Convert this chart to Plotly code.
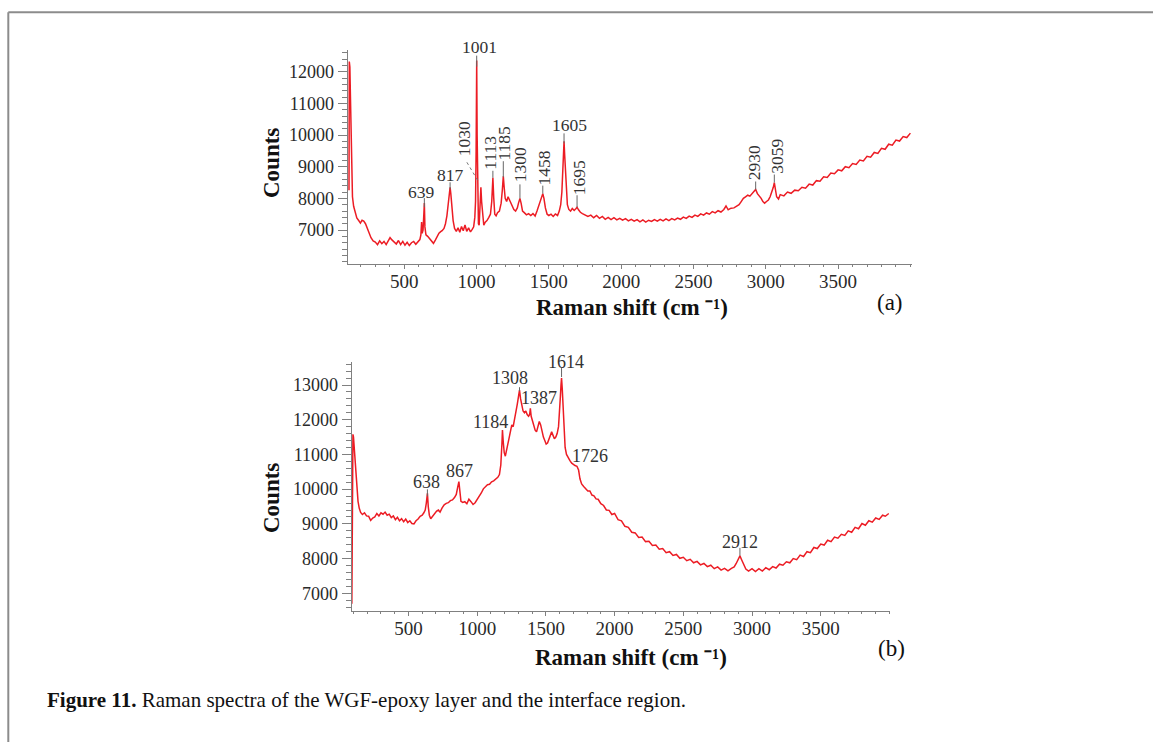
import plotly.graph_objects as go

# ---------------- spectrum (a): WGF-epoxy layer ----------------
shift_a = [
    118, 120, 124, 128, 132, 136, 142, 150, 160, 172,
    185, 197, 208, 220, 232, 245, 258, 270, 285, 300,
    315, 330, 345, 360, 375, 390, 402, 415, 430, 445,
    460, 475, 490, 505, 520, 535, 550, 565, 580, 595,
    608, 615, 620, 624, 630, 636, 639, 643, 650, 662,
    675, 690, 702, 715, 728, 740, 752, 762, 775, 785,
    795, 805, 812, 817, 822, 830, 838, 848, 860, 872,
    884, 896, 908, 920, 932, 945, 958, 970, 980, 988,
    993, 997, 1001, 1004, 1008, 1013, 1018, 1024, 1030, 1035,
    1042, 1050, 1060, 1072, 1085, 1096, 1105, 1113, 1119, 1126,
    1135, 1145, 1158, 1170, 1178, 1185, 1191, 1198, 1208, 1218,
    1228, 1238, 1248, 1258, 1270, 1282, 1290, 1300, 1308, 1318,
    1330, 1345, 1360, 1375, 1390, 1405, 1418, 1430, 1442, 1452,
    1458, 1466, 1476, 1488, 1500, 1515, 1530, 1545, 1560, 1572,
    1582, 1590, 1596, 1601, 1605, 1609, 1614, 1620, 1628, 1638,
    1650, 1662, 1675, 1688, 1695, 1705, 1718, 1732, 1750, 1770,
    1790, 1810, 1830, 1850, 1870, 1890, 1910, 1930, 1950, 1970,
    1990, 2010, 2030, 2050, 2070, 2090, 2110, 2130, 2150, 2170,
    2190, 2210, 2230, 2250, 2270, 2290, 2310, 2330, 2350, 2370,
    2390, 2410, 2430, 2450, 2470, 2490, 2510, 2530, 2550, 2570,
    2590, 2610, 2630, 2650, 2670, 2690, 2710, 2725, 2740, 2760,
    2780, 2800, 2815, 2830, 2845, 2860, 2875, 2890, 2905, 2918,
    2930, 2942, 2955, 2968, 2980, 2992, 3005, 3018, 3030, 3042,
    3052, 3059, 3066, 3075, 3088, 3100, 3125, 3150, 3175, 3200,
    3225, 3250, 3275, 3300, 3325, 3350, 3375, 3400, 3425, 3450,
    3475, 3500, 3525, 3550, 3575, 3600, 3625, 3650, 3675, 3700,
    3725, 3750, 3775, 3800, 3825, 3850, 3875, 3900, 3925, 3950,
    3975, 4000]
counts_a = [
    8260, 12320, 12150, 11200, 9800, 8600, 8050, 7750, 7550, 7380,
    7300, 7220, 7310, 7280, 7200, 7050, 6880, 6760, 6660, 6620,
    6540, 6660, 6570, 6640, 6540, 6660, 6760, 6690, 6630, 6560,
    6670, 6540, 6640, 6520, 6610, 6510, 6600, 6640, 6550, 6650,
    6700, 6850, 7250, 6900, 7000, 7550, 7850, 7100, 6850, 6800,
    6720, 6620, 6580, 6680, 6800, 6900, 6950, 6980, 7050, 7200,
    7450, 7800, 8150, 8350, 8150, 7700, 7300, 7050, 6960, 7070,
    6930, 7110, 6980, 7160, 6960, 7070, 6940, 7020, 7100, 7400,
    7900, 9500, 12350, 10000, 8200, 7200, 7150, 7600, 8350, 7900,
    7400, 7150, 7250, 7300, 7400, 7500, 7900, 8650, 8000, 7500,
    7450, 7550, 7600, 7850, 8250, 8700, 8350, 8000, 7900, 8050,
    7950, 7850, 7750, 7650, 7600, 7700, 7850, 8000, 7850, 7600,
    7550, 7480, 7520, 7460, 7520, 7440, 7600, 7750, 7900, 8050,
    8150, 8000, 7700, 7500, 7460, 7500, 7430, 7510, 7460, 7600,
    7800, 8200, 8700, 9300, 9800, 9400, 8900, 8200, 7800, 7650,
    7600, 7680, 7620, 7680, 7720, 7640, 7560, 7520, 7480, 7430,
    7470, 7390, 7460, 7370, 7430, 7340, 7400, 7330, 7390, 7320,
    7370, 7310, 7360, 7290, 7340, 7280, 7330, 7260, 7320, 7250,
    7310, 7270, 7330, 7280, 7340, 7290, 7350, 7300, 7360, 7320,
    7380, 7340, 7410, 7370, 7440, 7400, 7470, 7430, 7510, 7470,
    7540, 7500, 7580, 7540, 7610, 7570, 7650, 7760, 7640, 7690,
    7700, 7760, 7800, 7900, 8000, 8050, 8100, 8070, 8150, 8200,
    8280, 8150, 8080, 8000, 7900, 7850, 7900, 7950, 8050, 8200,
    8350, 8500, 8300, 8050, 7980, 8120, 8080, 8200, 8160, 8260,
    8240, 8350, 8320, 8450, 8420, 8560, 8540, 8680, 8660, 8800,
    8780, 8900, 8870, 9000, 8970, 9100, 9070, 9210, 9180, 9330,
    9300, 9450, 9420, 9580, 9550, 9710, 9680, 9840, 9810, 9950,
    9920, 10060]

# ---------------- spectrum (b): interface region ----------------
shift_b = [
    88, 92, 96, 100, 106, 112, 118, 125, 133, 142,
    152, 165, 180, 195, 210, 225, 240, 255, 270, 285,
    300, 315, 330, 345, 360, 375, 390, 405, 420, 435,
    450, 465, 480, 495, 510, 525, 540, 555, 570, 585,
    600, 612, 622, 630, 638, 644, 652, 662, 675, 690,
    705, 718, 730, 745, 760, 775, 790, 805, 820, 835,
    848, 858, 867, 874, 882, 895, 910, 925, 940, 955,
    970, 985, 1000, 1015, 1030, 1045, 1060, 1075, 1090, 1105,
    1120, 1135, 1150, 1162, 1172, 1180, 1184, 1190, 1197, 1205,
    1213, 1222, 1232, 1242, 1252, 1262, 1272, 1282, 1292, 1300,
    1308, 1316, 1324, 1334, 1344, 1354, 1364, 1374, 1382, 1387,
    1393, 1402, 1412, 1422, 1432, 1442, 1452, 1462, 1472, 1482,
    1492, 1502, 1512, 1522, 1532, 1542, 1552, 1562, 1572, 1582,
    1592, 1600, 1606, 1610, 1614, 1619, 1625, 1632, 1640, 1650,
    1662, 1675, 1688, 1700, 1712, 1726, 1738, 1748, 1760, 1775,
    1790, 1805, 1820, 1835, 1850, 1865, 1880, 1900, 1920, 1940,
    1960, 1980, 2000, 2025, 2050, 2075, 2100, 2125, 2150, 2175,
    2200, 2225, 2250, 2275, 2300, 2325, 2350, 2375, 2400, 2425,
    2450, 2475, 2500, 2525, 2550, 2575, 2600, 2625, 2650, 2675,
    2700, 2725, 2750, 2775, 2800, 2825, 2850, 2870, 2885, 2898,
    2912, 2925, 2940, 2955, 2975, 3000, 3025, 3050, 3075, 3100,
    3125, 3150, 3175, 3200, 3225, 3250, 3275, 3300, 3325, 3350,
    3375, 3400, 3425, 3450, 3475, 3500, 3525, 3550, 3575, 3600,
    3625, 3650, 3675, 3700, 3725, 3750, 3775, 3800, 3825, 3850,
    3875, 3900, 3925, 3950, 3970, 3995]
counts_b = [
    6700, 11000, 11580, 11500, 11150, 10700, 10300, 9950, 9650, 9450,
    9330, 9270, 9320, 9230, 9220, 9100, 9170, 9200, 9300, 9230,
    9320, 9280, 9340, 9250, 9280, 9180, 9230, 9120, 9190, 9090,
    9150, 9060, 9140, 9040, 9090, 9010, 9000, 9090, 9140, 9220,
    9250, 9320, 9400, 9600, 9880, 9500, 9250, 9150, 9220, 9270,
    9370, 9400, 9340, 9460, 9550, 9590, 9610, 9670, 9690, 9760,
    9850, 10050, 10220, 9950, 9650, 9620, 9640, 9580, 9710, 9640,
    9560, 9610, 9700, 9820, 9890, 10010, 10060, 10130, 10140, 10210,
    10240, 10290, 10340, 10420, 10700, 11300, 11700, 11350, 11050, 10950,
    11100, 11350, 11550, 11650, 11850, 11800, 12000, 12150, 12450, 12650,
    12850, 12600, 12400, 12250, 12200, 12250, 12150, 12100, 12150, 12330,
    12100, 11950, 11800, 11700, 11650, 11800, 11950, 11850, 11650, 11500,
    11400, 11300, 11330, 11420, 11550, 11650, 11550, 11450, 11500, 11600,
    11800, 12200, 12700, 13000, 13200, 12900, 12300, 11700, 11200, 11000,
    10900, 10820, 10750, 10700, 10680, 10660, 10550, 10300, 10150, 10080,
    10020, 9950, 9950, 9830, 9810, 9720, 9710, 9580, 9530, 9400,
    9390, 9270, 9300, 9120, 9090, 8930, 8900, 8760, 8740, 8610,
    8620, 8490, 8500, 8380, 8390, 8270, 8290, 8170, 8200, 8090,
    8120, 8010, 8040, 7940, 7980, 7880, 7920, 7820, 7860, 7770,
    7810, 7710, 7760, 7670, 7720, 7650, 7720, 7760, 7860, 7950,
    8080, 7960, 7800, 7700, 7640, 7710, 7630, 7710, 7640, 7740,
    7680, 7770, 7730, 7840, 7810, 7910, 7880, 8000, 7970, 8100,
    8060, 8200, 8170, 8320, 8290, 8420, 8390, 8530, 8490, 8620,
    8590, 8700, 8670, 8800, 8760, 8900, 8860, 9010, 8960, 9090,
    9050, 9170, 9130, 9250, 9220, 9300]

# peak labels: (position, text angle, label offset x/y in px, leader span in px)
peaks_a = [(639, 0, -3, 11, (-4, 5)), (817, 0, 0, 12, (-2, 5)), (1001, 0, 3, 14, (-6, 5)),
           (1030, -90, -17, 49, None), (1113, -90, -3, 25, (0, 7)), (1185, -90, 1, 33, (-1, 15)),
           (1300, -90, 0, 34, (0, 14)), (1458, -90, 1, 26, (0, 8)), (1605, 0, 5, 16, (-2, 8)),
           (1695, -90, 2, 29, (0, 12)), (2930, -90, -2, 27, (0, 8)), (3059, -90, 2, 26, (0, 8))]
peaks_b = [(638, 0, -1, 11, (-3, 4)), (867, 0, 1, 11, None), (1184, 0, -12, 8, None),
           (1308, 0, -10, 12, (-1, 3)), (1387, 0, 9, 10, None), (1614, 0, 4, 16, (1, 10)),
           (1726, 0, 13, 10, None), (2912, 0, 0, 14, (0, 8))]

ticks_x = [500, 1000, 1500, 2000, 2500, 3000, 3500]
ticks_a = [7000, 8000, 9000, 10000, 11000, 12000]
ticks_b = [7000, 8000, 9000, 10000, 11000, 12000, 13000]

W, H = 1153, 742
RED = "#ec1c24"
SERIF = "Liberation Serif"
INK = "#2a2a2a"
AXIS = "#808080"


def px(v, total):
    return v / total


fig = go.Figure()
fig.add_trace(go.Scatter(x=shift_a, y=counts_a, mode="lines", line=dict(color=RED, width=1.5),
                         xaxis="x", yaxis="y", showlegend=False, hoverinfo="skip"))
fig.add_trace(go.Scatter(x=shift_b, y=counts_b, mode="lines", line=dict(color=RED, width=1.5),
                         xaxis="x2", yaxis="y2", showlegend=False, hoverinfo="skip"))


def xaxis_style(dom, rng, anchor):
    return dict(domain=dom, range=rng, anchor=anchor, showgrid=False, zeroline=False,
                showline=True, linecolor=AXIS, linewidth=1, ticks="outside", ticklen=4,
                tickcolor=AXIS, tickvals=ticks_x, ticktext=[str(t) for t in ticks_x],
                ticklabelstandoff=-4,
                tickfont=dict(family=SERIF, size=19, color=INK),
                minor=dict(dtick=100, tick0=0, ticks="outside", ticklen=2, tickcolor=AXIS))


def yaxis_style(dom, rng, anchor, vals):
    return dict(domain=dom, range=rng, anchor=anchor, showgrid=False, zeroline=False,
                showline=True, linecolor=AXIS, linewidth=1, ticks="outside", ticklen=9,
                tickcolor=AXIS, tickvals=vals, ticktext=[str(t) for t in vals],
                tickfont=dict(family=SERIF, size=18, color=INK),
                minor=dict(dtick=200, tick0=0, ticks="outside", ticklen=5, tickcolor=AXIS))


fig.update_layout(
    width=W, height=H, margin=dict(l=0, r=0, t=0, b=0),
    paper_bgcolor="white", plot_bgcolor="white",
    xaxis=xaxis_style([px(347.7, W), px(911.7, W)], [109, 4009], "y"),
    yaxis=yaxis_style([1 - px(264, H), 1 - px(50, H)], [5928, 12685], "x", ticks_a),
    xaxis2=xaxis_style([px(351.7, W), px(890, W)], [87, 4004], "y2"),
    yaxis2=yaxis_style([1 - px(610.7, H), 1 - px(361.7, H)], [6500, 13671], "x2", ticks_b),
)

annotations = []
shapes = []


def add_peaks(peaks, xs, ys, xr, yr, size):
    for pos, ang, dx, dy, lead in peaks:
        val = ys[xs.index(pos)]
        annotations.append(dict(x=pos, y=val, xref=xr, yref=yr, text=str(pos), showarrow=False,
                                textangle=ang, xshift=dx, yshift=dy, xanchor="center", yanchor="middle",
                                font=dict(family=SERIF, size=size, color="#333333")))
        if lead is not None:
            shapes.append(dict(type="line", xref=xr, yref=yr, xsizemode="pixel", ysizemode="pixel",
                               xanchor=pos, yanchor=val, x0=0, x1=0, y0=lead[0], y1=lead[1],
                               line=dict(color="#666666", width=1)))


add_peaks(peaks_a, shift_a, counts_a, "x", "y", 17.5)
add_peaks(peaks_b, shift_b, counts_b, "x2", "y2", 18)

# dotted leader from the 1030 label down to its band
v1030 = counts_a[shift_a.index(1030)]
shapes.append(dict(type="line", xref="x", yref="y", xsizemode="pixel", ysizemode="pixel",
                   xanchor=1030, yanchor=v1030, x0=-14, y0=25, x1=-2, y1=5,
                   line=dict(color="#777777", width=1, dash="dot")))

# axis titles and panel tags
for cy in (163, 498):
    annotations.append(dict(x=px(271, W), y=1 - px(cy, H), xref="paper", yref="paper", text="<b>Counts</b>",
                            textangle=-90, showarrow=False, xanchor="center", yanchor="middle",
                            font=dict(family=SERIF, size=23, color="#111111")))
for cx, cy in ((632, 307), (631, 657)):
    annotations.append(dict(x=px(cx, W), y=1 - px(cy, H), xref="paper", yref="paper",
                            text="<b>Raman shift (cm \u207b\u00b9)</b>", showarrow=False,
                            xanchor="center", yanchor="middle",
                            font=dict(family=SERIF, size=23, color="#111111")))
for tag, cx, cy in (("(a)", 890, 303), ("(b)", 891, 648)):
    annotations.append(dict(x=px(cx, W), y=1 - px(cy, H), xref="paper", yref="paper", text=tag,
                            showarrow=False, xanchor="center", yanchor="middle",
                            font=dict(family=SERIF, size=23, color="#111111")))

# figure caption
annotations.append(dict(x=px(45, W), y=1 - px(700, H), xref="paper", yref="paper",
                        text="<b>Figure 11.</b> Raman spectra of the WGF-epoxy layer and the interface region.",
                        showarrow=False, xanchor="left", yanchor="middle",
                        font=dict(family=SERIF, size=21, color="#111111")))

# page frame
shapes.append(dict(type="line", xref="paper", yref="paper", x0=px(8.3, W), x1=1, y0=1 - px(12.3, H),
                   y1=1 - px(12.3, H), line=dict(color="#8c8c8c", width=2)))
shapes.append(dict(type="line", xref="paper", yref="paper", x0=px(8.3, W), x1=px(8.3, W), y0=0,
                   y1=1 - px(12.3, H), line=dict(color="#8c8c8c", width=2)))

fig.update_layout(annotations=annotations, shapes=shapes)
fig.write_html("out.html")
